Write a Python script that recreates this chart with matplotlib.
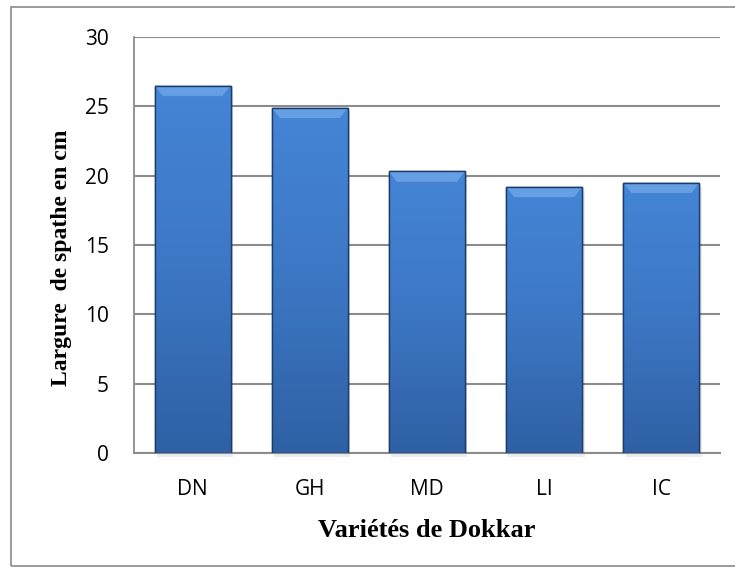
import matplotlib
matplotlib.use("Agg")
import matplotlib.pyplot as plt
import numpy as np
from matplotlib.patches import Rectangle
from matplotlib.colors import LinearSegmentedColormap

categories = ["DN", "GH", "MD", "LI", "IC"]
values = [26.5, 24.9, 20.3, 19.2, 19.5]
yticks = [0, 5, 10, 15, 20, 25, 30]

fig = plt.figure(figsize=(7.35, 5.69), dpi=100)
ax = fig.add_axes([0.1823, 0.2039, 0.7973, 0.7311])

# outer frame
fig.patches.append(Rectangle((11/735, 1-566/569), 2.0, (566-7)/569, transform=fig.transFigure,
                             fill=False, edgecolor="#8a8a8a", lw=1.2, zorder=0))

x = np.arange(len(categories))
width = 0.65
bars = ax.bar(x, values, width=width, color="#3a74c0", edgecolor="#1d3c6a", linewidth=1.0, zorder=3)

cmap = LinearSegmentedColormap.from_list("g", ["#4585d6", "#3c77c4", "#2f60a4"])
grad = np.linspace(0, 1, 256).reshape(-1, 1)
for b in bars:
    x0, w, h = b.get_x(), b.get_width(), b.get_height()
    im = ax.imshow(grad, aspect="auto", cmap=cmap, extent=(x0, x0 + w, 0, h), origin="upper", zorder=3.5)
    im.set_clip_path(b)
    # bevel top
    bev = 0.75
    ax.fill([x0, x0 + w, x0 + w - 0.07, x0 + 0.07], [h, h, h - bev, h - bev],
            color="#72a9e8", alpha=0.75, zorder=3.6, lw=0)
    ax.add_patch(Rectangle((x0, 0), w, h, fill=False, edgecolor="#1d3c6a", lw=1.0, zorder=3.8))
    # shadow
    ax.add_patch(Rectangle((x0 + 0.02, -0.3), w, h, color="#000000", alpha=0.08, lw=0, zorder=2.5,
                           clip_on=False))

ax.set_xlim(-0.5, len(categories) - 0.5)
ax.set_ylim(0, 30)
ax.set_yticks(yticks)
ax.set_xticks(x)
ax.set_xticklabels(categories)
ax.grid(axis="y", color="#8c8c8c", lw=1.5, zorder=1)
ax.set_axisbelow(True)
for s in ["top", "right"]:
    ax.spines[s].set_visible(False)
ax.spines["left"].set_color("#8c8c8c")
ax.spines["left"].set_linewidth(1.3)
ax.spines["bottom"].set_color("#8c8c8c")
ax.spines["bottom"].set_linewidth(1.5)
ax.tick_params(axis="both", length=0, labelsize=15, colors="black")
ax.tick_params(axis="y", pad=18)
ax.tick_params(axis="x", pad=19)
for lab in ax.get_xticklabels() + ax.get_yticklabels():
    lab.set_family("Open Sans")

ax.set_ylabel("Largure  de spathe en cm", family="Liberation Serif", fontweight="bold", fontsize=17)
ax.yaxis.set_label_coords(-0.105, 0.47)
ax.set_xlabel("Variétés de Dokkar", family="Liberation Serif", fontweight="bold", fontsize=19)
ax.xaxis.set_label_coords(0.5, -0.158)

fig.savefig("out.png", dpi=100)
